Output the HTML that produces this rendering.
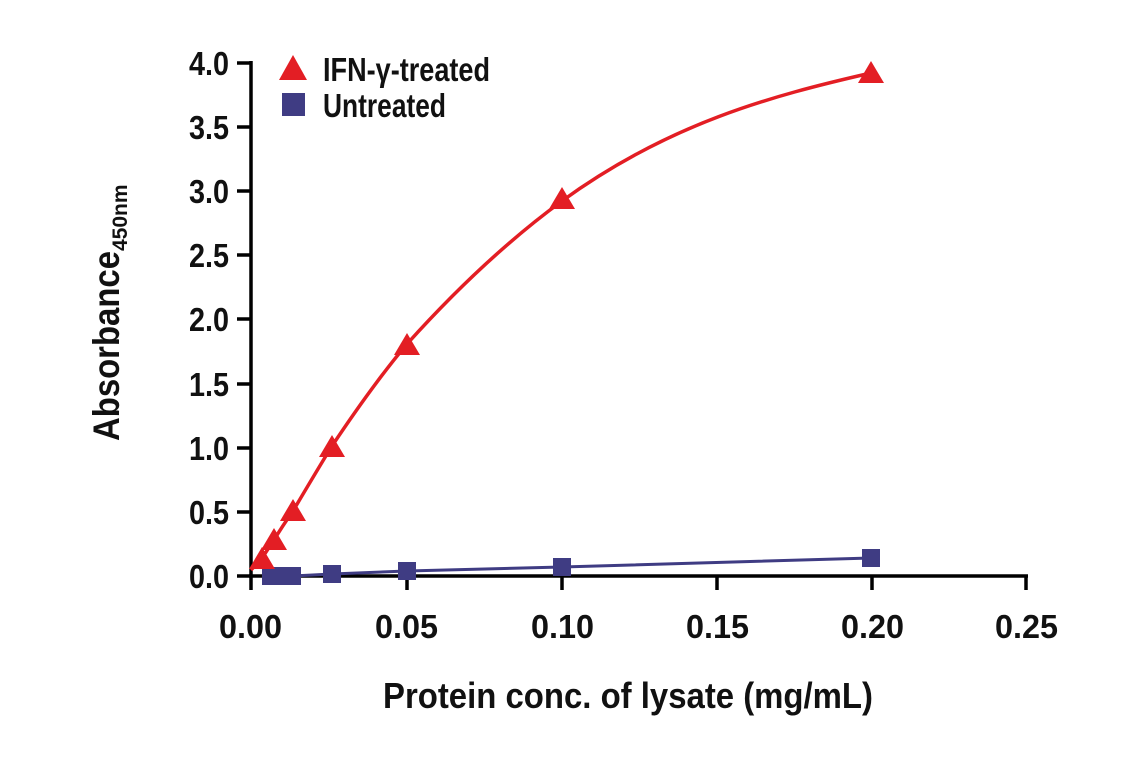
<!DOCTYPE html>
<html><head><style>
html,body{margin:0;padding:0;background:#fff;}
svg text{font-family:"Liberation Sans Narrow","Liberation Sans",sans-serif;font-weight:bold;fill:#111;}
</style></head><body>
<svg width="1141" height="768" viewBox="0 0 1141 768" xmlns="http://www.w3.org/2000/svg">
<g stroke="#000" stroke-width="3.5" fill="none">
<line x1="251" y1="61" x2="251" y2="590"/>
<line x1="249" y1="576" x2="1028" y2="576"/>
<line x1="237" y1="63" x2="251" y2="63"/>
<line x1="237" y1="127" x2="251" y2="127"/>
<line x1="237" y1="191" x2="251" y2="191"/>
<line x1="237" y1="255" x2="251" y2="255"/>
<line x1="237" y1="319" x2="251" y2="319"/>
<line x1="237" y1="384" x2="251" y2="384"/>
<line x1="237" y1="448" x2="251" y2="448"/>
<line x1="237" y1="512" x2="251" y2="512"/>
<line x1="237" y1="576" x2="251" y2="576"/>
<line x1="407" y1="576" x2="407" y2="590"/>
<line x1="562" y1="576" x2="562" y2="590"/>
<line x1="717" y1="576" x2="717" y2="590"/>
<line x1="872" y1="576" x2="872" y2="590"/>
<line x1="1026" y1="576" x2="1026" y2="590"/>
</g>
<g font-size="33" text-anchor="end">
<text x="229" y="75" textLength="40" lengthAdjust="spacingAndGlyphs">4.0</text>
<text x="229" y="139" textLength="40" lengthAdjust="spacingAndGlyphs">3.5</text>
<text x="229" y="203" textLength="40" lengthAdjust="spacingAndGlyphs">3.0</text>
<text x="229" y="267" textLength="40" lengthAdjust="spacingAndGlyphs">2.5</text>
<text x="229" y="331" textLength="40" lengthAdjust="spacingAndGlyphs">2.0</text>
<text x="229" y="396" textLength="40" lengthAdjust="spacingAndGlyphs">1.5</text>
<text x="229" y="460" textLength="40" lengthAdjust="spacingAndGlyphs">1.0</text>
<text x="229" y="524" textLength="40" lengthAdjust="spacingAndGlyphs">0.5</text>
<text x="229" y="588" textLength="40" lengthAdjust="spacingAndGlyphs">0.0</text>
</g>
<g font-size="33">
<text x="219" y="638" textLength="63" lengthAdjust="spacingAndGlyphs">0.00</text>
<text x="375" y="638" textLength="63" lengthAdjust="spacingAndGlyphs">0.05</text>
<text x="531" y="638" textLength="63" lengthAdjust="spacingAndGlyphs">0.10</text>
<text x="686" y="638" textLength="63" lengthAdjust="spacingAndGlyphs">0.15</text>
<text x="841" y="638" textLength="63" lengthAdjust="spacingAndGlyphs">0.20</text>
<text x="995" y="638" textLength="63" lengthAdjust="spacingAndGlyphs">0.25</text>
</g>
<text x="383" y="708" font-size="36" textLength="490" lengthAdjust="spacingAndGlyphs">Protein conc. of lysate (mg/mL)</text>
<text transform="translate(119,441) rotate(-90)" font-size="37"><tspan textLength="190" lengthAdjust="spacingAndGlyphs">Absorbance</tspan><tspan font-size="21" dy="8">450nm</tspan></text>
<polyline fill="none" stroke="#3f3c83" stroke-width="3" points="262,576 293,576 332,574 407,571 562,567 871,558"/>
<g fill="#3f3c83">
<rect x="262" y="567" width="18" height="18"/>
<rect x="272" y="567" width="18" height="18"/>
<rect x="283" y="567" width="18" height="18"/>
<rect x="323" y="565" width="18" height="18"/>
<rect x="398" y="562" width="18" height="18"/>
<rect x="553" y="558" width="18" height="18"/>
<rect x="862" y="549" width="18" height="18"/>
</g>
<path id="curve" fill="none" stroke="#e31e24" stroke-width="3.5" stroke-linejoin="round" d="M251,570 C255,566 258,563 262,558 C266,552 270,546 274,540 C280,530 286,521 293,511 C306,489 319,467 332,446 C356,410 380,376 407,344 C452,294 506,242 562,201 C668,124 770,96 871,73"/>
<g fill="#e31e24">
<polygon points="262,547 275,569 249,569"/>
<polygon points="274,528 287,550 261,550"/>
<polygon points="293,499 306,521 280,521"/>
<polygon points="332,435 345,457 319,457"/>
<polygon points="407,333 420,355 394,355"/>
<polygon points="562,187 575,209 549,209"/>
<polygon points="871,61 884,83 858,83"/>
<polygon points="293,55 307,80 279,80"/>
</g>
<rect x="282" y="93" width="23" height="23" fill="#3f3c83"/>
<text x="323" y="81" font-size="33" textLength="167" lengthAdjust="spacingAndGlyphs">IFN-γ-treated</text>
<text x="323" y="117" font-size="33" textLength="123" lengthAdjust="spacingAndGlyphs">Untreated</text>
</svg>
</body></html>
